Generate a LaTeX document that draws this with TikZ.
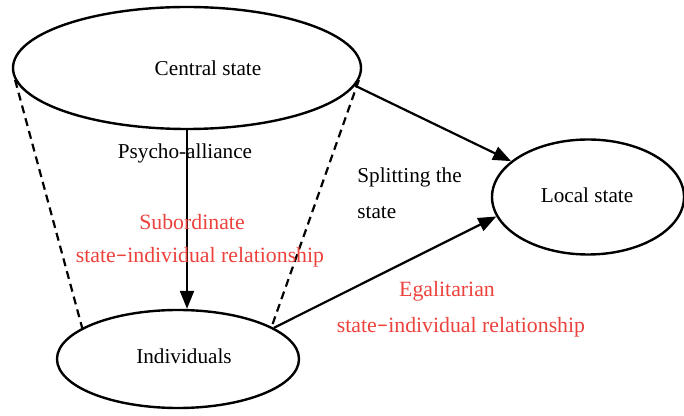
\documentclass[tikz,border=0pt]{standalone}
\usepackage{fontspec}
\setmainfont{Liberation Serif}
\usetikzlibrary{shapes.geometric,arrows.meta}
\definecolor{relred}{RGB}{236,66,60}
\tikzset{
  oval/.style={draw,ellipse,line width=1.2pt,inner sep=0pt},
  lbl/.style={font=\fontsize{10.6}{12}\selectfont,inner sep=0pt},
  redlbl/.style={font=\fontsize{10.9}{12}\selectfont,text=relred,inner sep=0pt},
  arr/.style={line width=1.1pt,-{Triangle[length=9pt,width=7pt]}},
  dsh/.style={line width=1.1pt,dash pattern=on 4pt off 2.6pt}
}
\begin{document}
\begin{tikzpicture}[x=0.5pt,y=-0.5pt]
\useasboundingbox (0,0) rectangle (684,416);
\node[oval,minimum width=174pt,minimum height=61pt] (central) at (187,68) {};
\node[oval,minimum width=121pt,minimum height=49pt] (indiv) at (178,359) {};
\node[oval,minimum width=96pt,minimum height=57.5pt] (local) at (588,197) {};
\node[lbl] (tcentral) at (208,68) {Central state};
\node[lbl] (tindiv) at (184,356) {Individuals};
\node[lbl] (tlocal) at (587,195) {Local state};
\draw[dsh] (central.184) -- (indiv.162);
\draw[dsh] (central.-4) -- (indiv.19);
\draw[arr] (central.south) -- (central.south |- indiv.north);
\draw[arr] (central.-6) -- (local.155);
\draw[arr] (indiv.18) -- (local.192);
\node[lbl] (psy) at (185,153) {Psycho-alliance};
\node[redlbl] (sub1) at (192,222) {Subordinate};
\node[redlbl] (sub2) at (200,257) {state\texttt{-}individual relationship};
\node[lbl,anchor=west] (split1) at (357,177) {Splitting the};
\node[lbl,anchor=west] (split2) at (357,213) {state};
\node[redlbl] (ega1) at (447,291) {Egalitarian};
\node[redlbl] (ega2) at (461,327) {state\texttt{-}individual relationship};
\end{tikzpicture}
\end{document}
